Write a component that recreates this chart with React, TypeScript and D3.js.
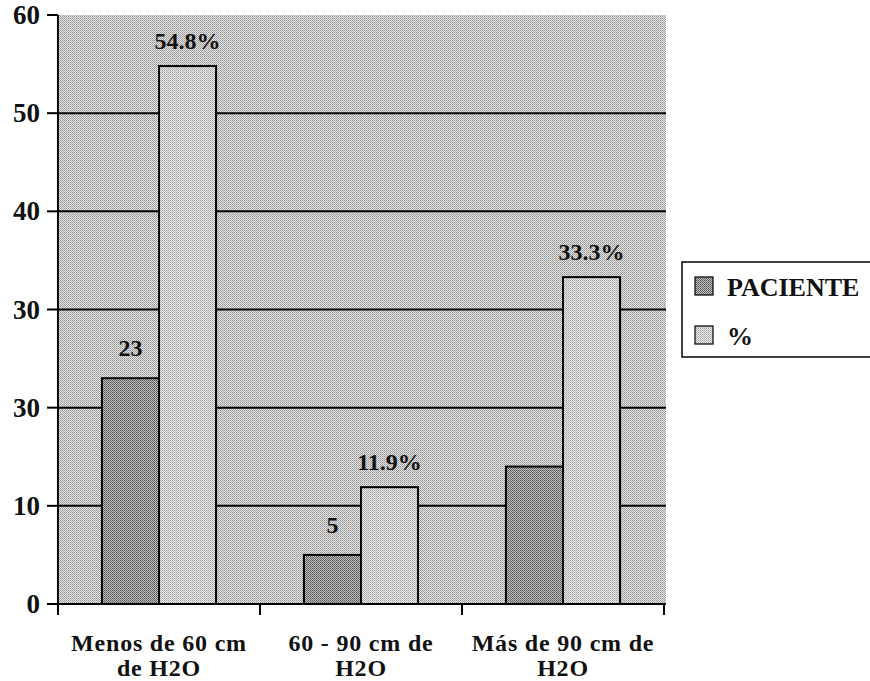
import React from "react";
import * as d3 from "d3";

const categories = ["Menos de 60 cm|de H2O", "60 - 90 cm de|H2O", "Más de 90 cm de|H2O"];
const seriesNames = ["PACIENTE", "%"];
const pacienteValues = [23, 5, 14];
const percentValues = [54.8, 11.9, 33.3];
const pacienteLabels = ["23", "5", ""];
const percentLabels = ["54.8%", "11.9%", "33.3%"];
const yTickValues = [0, 10, 20, 30, 40, 50, 60];
const yTickLabels = ["0", "10", "30", "30", "40", "50", "60"];

const W = 870;
const H = 681;
const FONT = "'Liberation Serif', 'Times New Roman', serif";

export default function App() {
  const left = 58, right = 664, top = 15, bottom = 604;
  const y = d3.scaleLinear().domain([0, 60]).range([bottom, top]);
  const x0 = d3.scaleBand<string>().domain(categories).range([left, right]).padding(0);
  const x1 = d3.scaleBand<string>().domain(seriesNames).range([0, x0.bandwidth()]).paddingInner(0).paddingOuter(0.77);

  const values = [pacienteValues, percentValues];
  const labels = [pacienteLabels, percentLabels];
  const fills = ["url(#patDark)", "url(#patLight)"];
  const labelOffset = [22, 17];

  return (
    <svg width={W} height={H} style={{ position: "absolute", left: 0, top: 0, background: "#fff" }}>
      <defs>
        <pattern id="patBg" width="2" height="2" patternUnits="userSpaceOnUse">
          <rect width="2" height="2" fill="#e2e2e2" />
          <rect x="0" y="0" width="1" height="1" fill="#969696" />
          <rect x="1" y="1" width="1" height="1" fill="#acacac" />
        </pattern>
        <pattern id="patLight" width="2" height="2" patternUnits="userSpaceOnUse">
          <rect width="2" height="2" fill="#e8e8e8" />
          <rect x="0" y="0" width="1" height="1" fill="#a4a4a4" />
          <rect x="1" y="1" width="1" height="1" fill="#b8b8b8" />
        </pattern>
        <pattern id="patDark" width="2" height="2" patternUnits="userSpaceOnUse">
          <rect width="2" height="2" fill="#c0c0c0" />
          <rect x="0" y="0" width="1" height="1" fill="#555" />
          <rect x="1" y="1" width="1" height="1" fill="#6a6a6a" />
        </pattern>
      </defs>

      {/* plot background */}
      <rect x={left} y={top} width={right - left + 2} height={bottom - top} fill="url(#patBg)" />

      {/* gridlines */}
      {yTickValues.filter(v => v > 0 && v < 60).map(v => (
        <line key={"g" + v} x1={left} x2={right + 2} y1={y(v)} y2={y(v)} stroke="#000" strokeWidth={2} />
      ))}

      {/* bars */}
      {categories.map((c, i) => (
        <g key={c} transform={`translate(${x0(c)},0)`}>
          {seriesNames.map((s, j) => {
            const v = values[j][i];
            const bx = x1(s)!;
            const bw = x1.bandwidth();
            return (
              <g key={s}>
                <rect x={bx} y={y(v)} width={bw} height={bottom - y(v)} fill={fills[j]} stroke="#000" strokeWidth={2} />
                {labels[j][i] && (
                  <text x={bx + bw / 2} y={y(v) - labelOffset[j]} textAnchor="middle" fontFamily={FONT} fontWeight="bold" fontSize={24} fill="#111">
                    {labels[j][i]}
                  </text>
                )}
              </g>
            );
          })}
        </g>
      ))}

      {/* y axis */}
      <line x1={left} x2={left} y1={top} y2={bottom + 10} stroke="#000" strokeWidth={2} />
      {yTickValues.map((v, i) => (
        <g key={"t" + v}>
          <line x1={left - 11} x2={left} y1={y(v)} y2={y(v)} stroke="#000" strokeWidth={2} />
          <text x={40} y={y(v) + 9} textAnchor="end" fontFamily={FONT} fontWeight="bold" fontSize={27} fill="#111">
            {yTickLabels[i]}
          </text>
        </g>
      ))}

      {/* x axis */}
      <line x1={left} x2={right + 2} y1={bottom} y2={bottom} stroke="#000" strokeWidth={2} />
      {[...categories.map(c => x0(c)!), right].map((xv, i) => (
        <line key={"xt" + i} x1={xv} x2={xv} y1={bottom} y2={bottom + 11} stroke="#000" strokeWidth={2} />
      ))}
      {categories.map(c => {
        const lines = c.split("|");
        const cx = x0(c)! + x0.bandwidth() / 2;
        return (
          <g key={"cl" + c}>
            {lines.map((ln, k) => (
              <text key={k} x={cx} y={651 + k * 25} textAnchor="middle" fontFamily={FONT} fontWeight="bold" fontSize={24} letterSpacing={0.8} fill="#111">{ln}</text>
            ))}
          </g>
        );
      })}

      {/* legend */}
      <rect x={682} y={262} width={200} height={95} fill="#fff" stroke="#000" strokeWidth={1.5} />
      {seriesNames.map((s, j) => (
        <g key={"lg" + s}>
          <rect x={695} y={277 + j * 49} width={18} height={18} fill={fills[j]} stroke="#000" strokeWidth={1.2} />
          <text x={727} y={296 + j * 49} fontFamily={FONT} fontWeight="bold" fontSize={26} fill="#111">{s}</text>
        </g>
      ))}
    </svg>
  );
}
